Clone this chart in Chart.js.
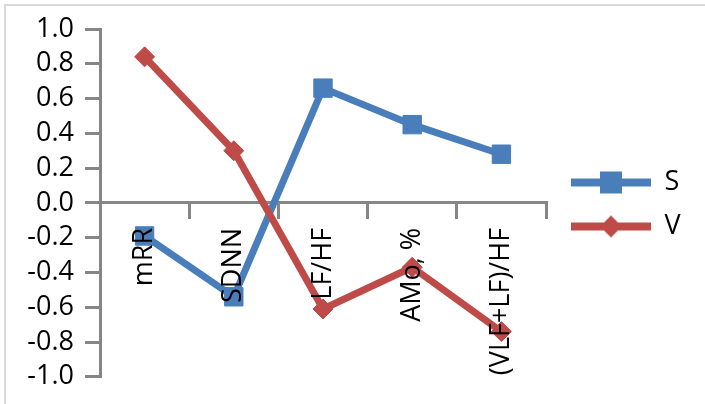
<!DOCTYPE html>
<html>
<head>
<meta charset="utf-8">
<script src="https://cdn.jsdelivr.net/npm/chart.js@4.4.1/dist/chart.umd.min.js"></script>
<style>
html,body{margin:0;padding:0;background:#fff;}
#wrap{position:relative;width:705px;height:404px;}
</style>
</head>
<body>
<div id="wrap"><canvas id="c" width="705" height="404"></canvas></div>
<script>
const categories = ['mRR', 'SDNN', 'LF/HF', 'AMo, %', '(VLF+LF)/HF'];
const seriesNames = ['S', 'V'];
const seriesS = [-0.19, -0.54, 0.66, 0.45, 0.28];
const seriesV = [0.84, 0.30, -0.61, -0.37, -0.74];
const yTickValues = [-1.0, -0.8, -0.6, -0.4, -0.2, 0.0, 0.2, 0.4, 0.6, 0.8, 1.0];

const BLUE = '#4A7EBB';
const RED = '#BE4B48';
const AXIS = '#868686';
const FONT = { family: "'Open Sans', 'Liberation Sans', sans-serif", size: 27 };

function legendIcon(color, shape) {
  const cv = document.createElement('canvas');
  cv.width = 88; cv.height = 26;
  const g = cv.getContext('2d');
  g.strokeStyle = color; g.lineWidth = 8;
  g.beginPath(); g.moveTo(8, 13); g.lineTo(88, 13); g.stroke();
  g.fillStyle = color;
  if (shape === 'rect') {
    g.fillRect(37, 2, 22, 22);
  } else {
    g.beginPath(); g.moveTo(48, 2); g.lineTo(59, 13); g.lineTo(48, 24); g.lineTo(37, 13); g.closePath(); g.fill();
  }
  return cv;
}

const framePlugin = {
  id: 'frame',
  beforeDraw(chart) {
    const ctx = chart.ctx;
    ctx.save();
    ctx.strokeStyle = '#D9D9D9';
    ctx.lineWidth = 2;
    ctx.beginPath();
    ctx.moveTo(5, 404); ctx.lineTo(5, 5); ctx.lineTo(705, 5);
    ctx.stroke();
    ctx.restore();
  }
};

new Chart(document.getElementById('c'), {
  type: 'line',
  data: {
    labels: categories,
    datasets: [
      {
        label: seriesNames[0], data: seriesS, order: 1,
        borderColor: BLUE, backgroundColor: BLUE, borderWidth: 7,
        borderJoinStyle: 'round', borderCapStyle: 'round',
        pointStyle: 'rect', pointRadius: 13, pointHoverRadius: 13,
        pointBackgroundColor: BLUE, pointBorderColor: BLUE, pointBorderWidth: 1,
        tension: 0, fill: false, shapeKey: 'rect'
      },
      {
        label: seriesNames[1], data: seriesV, order: 0,
        borderColor: RED, backgroundColor: RED, borderWidth: 7,
        borderJoinStyle: 'round', borderCapStyle: 'round',
        pointStyle: 'rectRot', pointRadius: 10, pointHoverRadius: 10,
        pointBackgroundColor: RED, pointBorderColor: RED, pointBorderWidth: 1,
        tension: 0, fill: false, shapeKey: 'diamond'
      }
    ]
  },
  options: {
    responsive: false,
    animation: false,
    devicePixelRatio: 1,
    layout: { padding: { left: 0, top: 29, right: 19, bottom: 24 } },
    scales: {
      x: {
        type: 'category',
        position: { y: 0 },
        offset: true,
        grid: { offset: true, drawOnChartArea: false, drawTicks: true, tickLength: 15, color: AXIS, lineWidth: 3 },
        border: { display: true, color: AXIS, width: 3 },
        ticks: { display: false }
      },
      x2: {
        type: 'category',
        axis: 'x',
        position: { y: 0 },
        offset: true,
        grid: { display: false, drawOnChartArea: false, drawTicks: false },
        border: { display: false },
        ticks: { display: true, z: 1, minRotation: 90, maxRotation: 90, autoSkip: false, padding: 25, color: '#000', font: FONT }
      },
      y: {
        type: 'linear',
        min: -1, max: 1,
        afterBuildTicks: s => { s.ticks = yTickValues.map(v => ({ value: v })); },
        afterFit: s => { s.width = 100; },
        grid: { drawOnChartArea: false, drawTicks: true, tickLength: 15, color: AXIS, lineWidth: 3 },
        border: { display: true, color: AXIS, width: 3 },
        ticks: {
          autoSkip: false,
          padding: 11, color: '#000', font: FONT,
          callback: v => (Math.abs(v) < 1e-9 ? 0 : v).toFixed(1)
        }
      }
    },
    plugins: {
      tooltip: { enabled: false },
      legend: {
        position: 'right',
        align: 'center',
        maxWidth: 140,
        labels: {
          usePointStyle: true,
          pointStyleWidth: 88,
          padding: 17,
          color: '#000',
          font: FONT,
          generateLabels(chart) {
            return chart.data.datasets.map((ds, i) => ({
              text: ds.label,
              pointStyle: legendIcon(ds.borderColor, ds.shapeKey === 'rect' ? 'rect' : 'diamond'),
              fillStyle: ds.borderColor,
              strokeStyle: ds.borderColor,
              lineWidth: 0,
              hidden: false,
              datasetIndex: i,
              fontColor: '#000'
            }));
          }
        }
      }
    }
  },
  plugins: [framePlugin]
});
</script>
</body>
</html>
